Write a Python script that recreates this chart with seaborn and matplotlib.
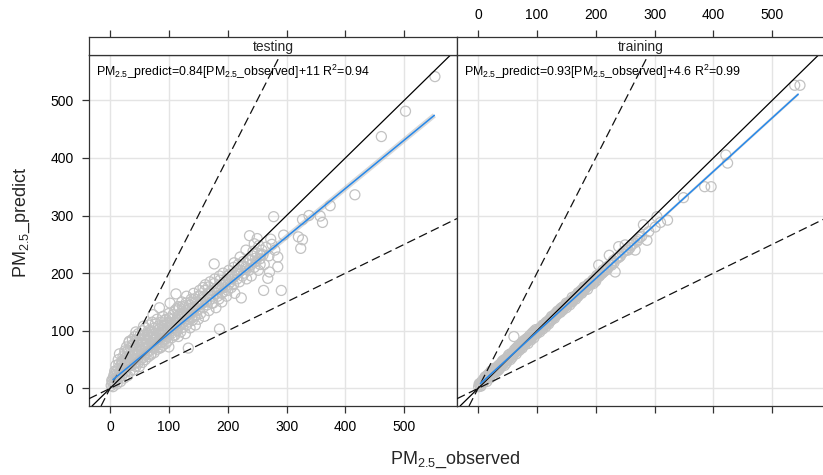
import numpy as np
import pandas as pd
import matplotlib
matplotlib.use("Agg")
import matplotlib.pyplot as plt
import seaborn as sns

# testing panel points (observed, predicted)
test_x = [2, 4, 5, 6, 8, 8, 10, 10, 12, 12, 14, 15, 15, 16, 18, 18, 20, 20, 22, 22, 24, 25, 25, 26, 28, 28,
          30, 30, 30, 32, 32, 34, 35, 35, 36, 38, 38, 40, 40, 40, 42, 42, 44, 45, 45, 46, 48, 48, 50, 50, 50,
          52, 52, 54, 55, 55, 56, 58, 58, 60, 60, 60, 62, 62, 64, 65, 65, 66, 68, 68, 70, 70, 70, 72, 72, 74,
          75, 75, 76, 78, 78, 80, 80, 80, 82, 82, 84, 85, 85, 86, 88, 88, 90, 90, 90, 92, 92, 94, 95, 95, 96,
          98, 98, 100, 100, 100, 100,
          102, 104, 105, 106, 108, 110, 110, 112, 112, 114, 115, 116, 118, 118, 120, 120, 122, 122, 124, 125,
          126, 128, 128, 130, 130, 132, 133, 134, 135, 136, 138, 138, 140, 140, 142, 144, 145, 146, 148, 150,
          150, 150,
          152, 154, 155, 158, 158, 160, 160, 162, 165, 166, 168, 170, 170, 172, 175, 175, 177, 178, 180, 180,
          182, 185, 186, 186, 188, 190, 190, 192, 195, 196, 198, 200, 200,
          202, 205, 206, 208, 210, 210, 212, 215, 216, 218, 220, 222, 223, 225, 226, 228, 230, 232, 235, 236,
          237, 240, 240, 242, 245, 245, 248, 250, 252, 255, 258, 260, 261, 262,
          268, 271, 273, 278, 285, 285, 291, 295, 320, 324, 327, 327, 338, 357, 361, 374, 416, 461, 502, 552,
          265, 270, 275, 280, 255, 250, 26, 33, 20, 44, 57, 64, 73, 84, 108, 116]
test_y = [5, 12, 3, 20, 10, 30, 15, 40, 8, 25, 50, 18, 35, 60, 12, 28, 45, 22, 55, 35, 18, 65, 40, 28, 50, 72,
          22, 38, 60, 45, 80, 30, 55, 70, 40, 85, 62, 32, 48, 75, 58, 90, 38, 68, 52, 80, 44, 95, 60, 72, 38,
          85, 50, 66, 100, 45, 78, 58, 92, 70, 50, 105, 82, 62, 95, 55, 74, 110, 88, 66, 60, 80, 100, 115, 72, 90,
          62, 84, 105, 75, 96, 68, 88, 120, 108, 78, 95, 70, 85, 115, 100, 80, 75, 92, 125, 110, 85, 100, 78, 120, 90,
          105, 82, 95, 115, 130, 72,
          148, 100, 88, 120, 105, 92, 135, 164, 112, 100, 125, 90, 140, 110, 98, 120, 150, 130, 106, 115,
          140, 95, 125, 160, 110, 135, 70, 120, 145, 105, 130, 155, 118, 140, 165, 125, 110, 150, 135, 120,
          160, 145,
          170, 130, 150, 140, 175, 125, 160, 180, 145, 165, 135, 155, 185, 170, 148, 160, 216, 190, 165, 140,
          175, 155, 103, 195, 180, 165, 150, 200, 175, 185, 160, 170, 195,
          205, 185, 175, 195, 210, 180, 165, 200, 190, 215, 185, 205, 157, 195, 220, 200, 210, 190, 225, 205,
          265, 215, 195, 230, 251, 210, 220, 235, 205, 225, 240, 232, 170, 215,
          191, 202, 259, 298, 211, 228, 170, 266, 263, 243, 258, 293, 300, 299, 288, 317, 336, 437, 481, 541,
          245, 230, 250, 240, 215, 260, 62, 82, 42, 98, 108, 92, 128, 140, 92, 142]

# more of the dense testing cluster
test_x2 = [3, 5, 7, 9, 11, 13, 15, 17, 19, 21, 23, 25, 27, 29, 31, 33, 35, 37, 39, 41, 43, 45, 47, 49, 51,
           53, 55, 57, 59, 61, 63, 65, 67, 69, 71, 73, 75, 77, 79, 81, 83, 85, 87, 89, 91, 93, 95, 97, 99, 101,
           103, 105, 107, 109, 111, 113, 115, 117, 119, 121, 123, 125, 127, 129, 131, 133, 135, 137, 139, 141,
           143, 145, 147, 149,
           153, 157, 161, 163, 167, 171, 173, 177, 181, 183, 187, 191, 193, 197, 201, 203, 207, 211, 213, 217,
           221, 227, 231, 233, 238, 243, 247, 253, 256]
test_y2 = [14, 9, 24, 18, 30, 20, 42, 25, 34, 48, 30, 52, 38, 44, 66, 40, 48, 75, 50, 62, 44, 84, 58, 66, 92,
           60, 72, 54, 88, 68, 78, 100, 74, 58, 90, 84, 70, 112, 92, 80, 102, 94, 72, 108, 98, 118, 86, 112, 100, 122,
           110, 96, 128, 115, 102, 138, 118, 108, 130, 112, 142, 130, 118, 148, 126, 115, 138, 150, 124, 132,
           155, 140, 128, 150,
           160, 148, 170, 150, 176, 165, 148, 182, 172, 160, 188, 178, 168, 188, 180, 198, 190, 218, 196, 205,
           228, 212, 240, 208, 222, 238, 226, 248, 232]

# training panel points (observed, predicted)
train_x = [1, 3, 4, 5, 6, 8, 8, 10, 10, 12, 12, 14, 15, 15, 16, 18, 18, 20, 20, 22, 22, 24, 25, 25, 26, 28, 28,
           30, 30, 32, 32, 34, 35, 35, 36, 38, 38, 40, 40, 42, 42, 44, 45, 45, 46, 48, 48, 50, 50, 52, 52, 54,
           55, 55, 56, 58, 58, 60, 60, 61, 62, 62, 64, 65, 65, 66, 68, 68, 70, 70, 72, 72, 74, 75, 75, 76, 78,
           78, 80, 80, 82, 82, 84, 85, 85, 86, 88, 88, 90, 90, 92, 92, 94, 95, 95, 96, 98, 98, 100, 100, 102,
           104, 105, 106, 108, 110, 110, 112, 114, 115, 116, 118, 120, 120, 122, 124, 125, 126, 128, 130, 130,
           132, 134, 135, 136, 138, 140, 140, 142, 144, 145, 146, 148, 150, 150, 152, 155, 156, 158, 160, 160,
           162, 165, 166, 168, 170, 170, 172, 175, 176, 178, 180, 180, 182, 185, 186, 188, 190, 192, 195, 196,
           198, 200, 200, 202, 205, 205, 208, 210, 212, 215, 218, 220, 223, 225, 228, 230, 233, 235, 239, 240,
           245, 250, 255, 260, 265, 267, 270, 275, 281, 287, 290, 301, 304, 310, 322, 349, 385, 396, 421, 424,
           538, 547]
train_y = [3, 6, 9, 4, 11, 10, 14, 12, 16, 14, 20, 17, 12, 22, 19, 20, 25, 18, 26, 24, 30, 27, 22, 32, 29, 30, 35,
           28, 34, 36, 30, 35, 40, 32, 38, 42, 36, 40, 45, 42, 48, 45, 40, 50, 47, 50, 44, 48, 54, 52, 58, 55,
           50, 60, 57, 60, 54, 58, 63, 90, 62, 67, 63, 60, 70, 66, 68, 73, 66, 72, 71, 77, 74, 70, 80, 76, 78,
           83, 76, 82, 80, 86, 83, 78, 88, 85, 86, 92, 84, 90, 91, 96, 92, 88, 99, 95, 96, 102, 95, 100, 99,
           104, 98, 103, 107, 103, 110, 110, 112, 107, 115, 114, 112, 118, 120, 118, 125, 120, 124, 122, 128,
           130, 128, 134, 130, 134, 132, 138, 140, 136, 142, 140, 144, 140, 148, 146, 150, 145, 152, 150, 158,
           155, 160, 155, 162, 160, 166, 165, 170, 165, 172, 170, 176, 175, 178, 172, 182, 180, 184, 188, 182,
           190, 192, 186, 196, 214, 194, 198, 200, 205, 204, 210, 208, 231, 215, 218, 222, 202, 226, 246, 228,
           235, 249, 240, 248, 252, 240, 255, 262, 284, 257, 272, 280, 298, 288, 292, 331, 350, 350, 405, 391,
           526, 526]

# more of the training band
train_x2 = [2, 5, 7, 9, 11, 13, 17, 19, 21, 23, 27, 29, 31, 33, 37, 39, 41, 43, 47, 49, 51, 53, 57, 59, 63,
            67, 69, 71, 73, 77, 79, 81, 83, 87, 89, 91, 93, 97, 99, 103, 107, 109, 111, 113, 117, 119, 121, 123,
            127, 129, 131, 133, 137, 139, 141, 143, 147, 149, 151, 153, 157, 159, 161, 163, 167, 169, 171, 173,
            177, 179, 181, 183, 187, 189, 191, 193, 197, 199, 203, 207, 211, 213, 217, 219, 221, 227, 231, 237,
            242, 248, 252, 258, 262, 272, 278]
train_y2 = [8, 7, 12, 13, 16, 15, 22, 21, 24, 26, 31, 30, 33, 36, 40, 41, 42, 46, 48, 51, 52, 53, 58, 60, 63,
            68, 68, 72, 71, 78, 78, 80, 83, 86, 88, 90, 92, 96, 98, 100, 104, 106, 108, 110, 114, 116, 116, 120,
            124, 124, 128, 130, 132, 134, 136, 140, 142, 144, 145, 148, 150, 152, 154, 155, 160, 160, 164, 166,
            168, 170, 172, 174, 178, 180, 180, 184, 188, 188, 194, 196, 200, 202, 206, 206, 212, 214, 218, 226,
            230, 238, 240, 244, 250, 258, 264]

panels = ["testing", "training"]
fit_slope = [0.84, 0.93]
fit_intercept = [11, 4.6]
fit_r2 = [0.94, 0.99]
fit_range = [(5, 551), (4, 544)]
band_width = [3.6, 1.8]
ticks = [0, 100, 200, 300, 400, 500]

df = pd.concat([
    pd.DataFrame({"observed": test_x + test_x2, "predict": test_y + test_y2, "type": "testing"}),
    pd.DataFrame({"observed": train_x + train_x2, "predict": train_y + train_y2, "type": "training"}),
])

sns.set_style("white")
plt.rcParams["font.family"] = ["Liberation Sans", "DejaVu Sans"]
plt.rcParams["mathtext.fontset"] = "custom"
plt.rcParams["mathtext.rm"] = "Liberation Sans"
plt.rcParams["mathtext.it"] = "Liberation Sans:italic"
plt.rcParams["mathtext.default"] = "regular"

W, H = 823, 475
fig = plt.figure(figsize=(W / 100, H / 100), dpi=100)

xlim = (-35.7, 589.5)
ylim = (-30.5, 578.5)
frame_col = "#333333"
left_px = [89, 457]
pw = 368

for i, name in enumerate(panels):
    ax = fig.add_axes([left_px[i] / W, (H - 406) / H, pw / W, (406 - 55) / H])
    ax.set_xlim(xlim)
    ax.set_ylim(ylim)
    for t in ticks:
        ax.axvline(t, color="#e4e4e4", lw=1.0, zorder=0)
        ax.axhline(t, color="#e4e4e4", lw=1.0, zorder=0)

    sub = df[df["type"] == name]
    sns.scatterplot(data=sub, x="observed", y="predict", ax=ax, marker="o", s=52,
                    facecolor="none", edgecolor="#c2c2c2", linewidth=0.9, zorder=2)

    ax.axline((0, 0), slope=1, color="black", lw=0.9, zorder=3)
    ax.axline((0, 0), slope=2, color="#111111", lw=0.9, ls=(0, (7, 3.5)), zorder=3)
    ax.axline((0, 0), slope=0.5, color="#111111", lw=0.9, ls=(0, (7, 3.5)), zorder=3)

    xs = np.array(fit_range[i], dtype=float)
    ys = fit_slope[i] * xs + fit_intercept[i]
    ax.plot(xs, ys, color="#b5b5b5", lw=band_width[i], alpha=0.5, zorder=4, solid_capstyle="butt")
    ax.plot(xs, ys, color="#2688ea", lw=1.1, zorder=5)

    ax.text(0.02, 0.953,
            r"PM$_{2.5}$_predict=%g[PM$_{2.5}$_observed]+%g R$^2$=%g"
            % (fit_slope[i], fit_intercept[i], fit_r2[i]),
            transform=ax.transAxes, fontsize=8.9, ha="left", va="center", color="black", zorder=6)

    ax.set_xticks(ticks)
    ax.set_yticks(ticks)
    ax.tick_params(axis="both", direction="out", length=5, width=0.9, color=frame_col,
                   labelsize=10, labelcolor="black")
    ax.tick_params(axis="x", pad=5)
    ax.tick_params(axis="y", pad=6)
    if i == 0:
        ax.tick_params(left=True, labelleft=True, bottom=True, labelbottom=True)
    else:
        ax.tick_params(left=False, labelleft=False, bottom=True, labelbottom=False)
    ax.set_xlabel("")
    ax.set_ylabel("")
    for sp in ax.spines.values():
        sp.set_color(frame_col)
        sp.set_linewidth(0.9)

    # strip on top
    st = fig.add_axes([left_px[i] / W, (H - 55) / H, pw / W, 18 / H])
    st.set_xlim(xlim)
    st.set_yticks([])
    st.set_xticks(ticks)
    st.xaxis.tick_top()
    st.tick_params(axis="x", direction="out", length=5, width=0.9, color=frame_col,
                   labelsize=10, labelcolor="black", pad=6,
                   labeltop=(i == 1), labelbottom=False, bottom=False)
    st.text(0.5, 0.45, name, transform=st.transAxes, ha="center", va="center", fontsize=10)
    for sp in st.spines.values():
        sp.set_color(frame_col)
        sp.set_linewidth(0.9)

fig.text(22 / W, 1 - 222 / H, r"PM$_{2.5}$_predict", rotation=90, ha="center", va="center", fontsize=13)
fig.text(455 / W, 1 - 460 / H, r"PM$_{2.5}$_observed", ha="center", va="center", fontsize=13)

fig.savefig("out.png", dpi=100)
